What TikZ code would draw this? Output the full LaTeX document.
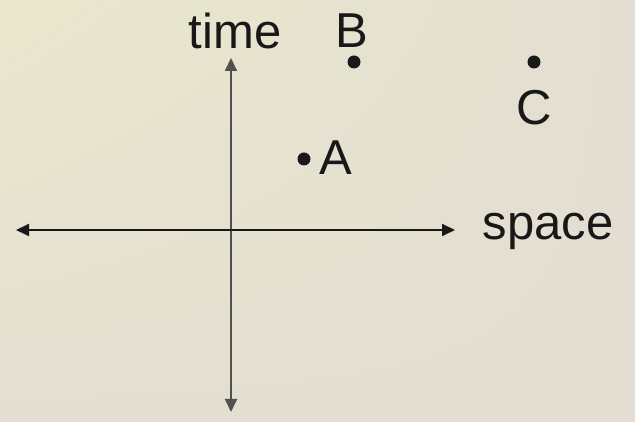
\documentclass[tikz,border=0pt]{standalone}
\usepackage{fontspec}
\setmainfont{Liberation Sans}
\usetikzlibrary{arrows.meta,shadings}
\definecolor{board}{RGB}{227,222,209}
\definecolor{boardhi}{RGB}{235,232,206}
\definecolor{ink}{RGB}{24,24,24}
\definecolor{axisgray}{RGB}{80,80,80}
\tikzset{
  every picture/.style={
    font=\fontsize{49}{51}\selectfont,
    line join=round,
    line cap=round,
    >={Triangle[length=13pt,width=12pt]},   % same head on both axes
  },
  axis/.style={line width=1.8pt, <->},
  event/.style={circle, fill=ink, inner sep=0pt, minimum size=13pt},
  tag/.style={text=ink, inner sep=0pt, anchor=base},
}

\begin{document}
\begin{tikzpicture}[x=1pt,y=1pt]
    % Background
    \shade[upper left=boardhi, upper right=board, lower left=board, lower right=board]
        (0,0) rectangle (635,422);
    \useasboundingbox (0,0) rectangle (635,422);
    % Axis ends
    \coordinate (top) at (231,364);
    \coordinate (bottom) at (231,10);
    \coordinate (left) at (16,192);
    \coordinate (right) at (455,192);
    % Axes
    \draw[axis, axisgray] (bottom) -- (top);
    \draw[axis, ink] (left) -- (right);
    \node[tag] (time) at (235,373) {time};
    \node[tag] (space) at (548,182) {space};
    % Events
    \node[event] (a) at (304,263) {};
    \node[event] (b) at (354,360) {};
    \node[event] (c) at (534,360) {};
    \node[tag] (alabel) at (336,247) {A};
    \node[tag] (blabel) at (352,374) {B};
    \node[tag] (clabel) at (534,297) {C};
\end{tikzpicture}
\end{document}
